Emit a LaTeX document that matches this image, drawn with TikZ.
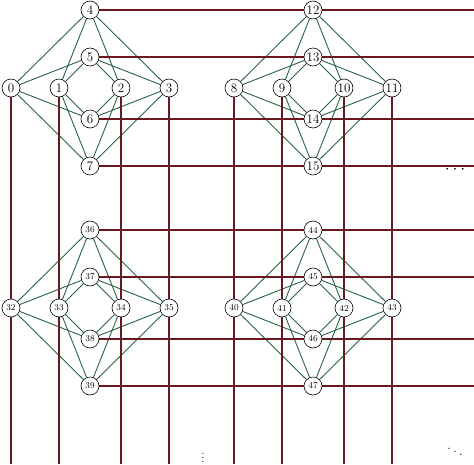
\documentclass[tikz,border=0pt]{standalone}
\usetikzlibrary{backgrounds}
\definecolor{gcol}{RGB}{40,100,68}
\definecolor{rcol}{RGB}{105,25,30}
\begin{document}
\begin{tikzpicture}[x=1pt,y=-1pt,
  vert/.style={circle,draw=black,fill=white,minimum size=18pt,inner sep=0pt,line width=0.6pt},
  bigf/.style={font=\fontsize{13}{13}\selectfont},
  smallf/.style={font=\fontsize{9}{9}\selectfont},
  gedge/.style={draw=gcol,line width=0.9pt},
  redge/.style={draw=rcol,line width=1.4pt},
  dotsnode/.style={inner sep=0pt,font=\fontsize{16}{16}\selectfont}]
\useasboundingbox (0,0) rectangle (474,464);
\coordinate (R) at (474,0);
\coordinate (B) at (0,464);
\foreach \b/\dx/\dy/\fs in {0/0/0/bigf,8/223/0/bigf,32/0/220/smallf,40/223/220/smallf}{
  \foreach \k/\x/\y in {0/11/88,1/59/88,2/121/88,3/169/88,4/90/10,5/90/57,6/90/119,7/90/166}{
    \pgfmathtruncatemacro{\num}{\b+\k}
    \node[vert,\fs] (n\num) at (\x+\dx,\y+\dy) {\num};
  }
}
\begin{pgfonlayer}{background}
\foreach \b in {0,8,32,40}{
  \foreach \i in {0,1,2,3}{
    \foreach \j in {4,5,6,7}{
      \pgfmathtruncatemacro{\p}{\b+\i}
      \pgfmathtruncatemacro{\q}{\b+\j}
      \draw[gedge] (n\p) -- (n\q);
    }
  }
}
\foreach \b in {0,32}{
  \foreach \j in {4,5,6,7}{
    \pgfmathtruncatemacro{\q}{\b+\j}
    \draw[redge] (n\q.center) -- (n\q.center -| R);
  }
}
\foreach \b in {0,8}{
  \foreach \i in {0,1,2,3}{
    \pgfmathtruncatemacro{\p}{\b+\i}
    \draw[redge] (n\p.center) -- (n\p.center |- B);
  }
}
\end{pgfonlayer}
\node[dotsnode] (hdots) at (455,170) {$\cdots$};
\node[dotsnode,font=\fontsize{12}{12}\selectfont] (vdots) at (203,455) {$\vdots$};
\node[dotsnode] (ddots) at (455,449) {$\ddots$};
\end{tikzpicture}
\end{document}
